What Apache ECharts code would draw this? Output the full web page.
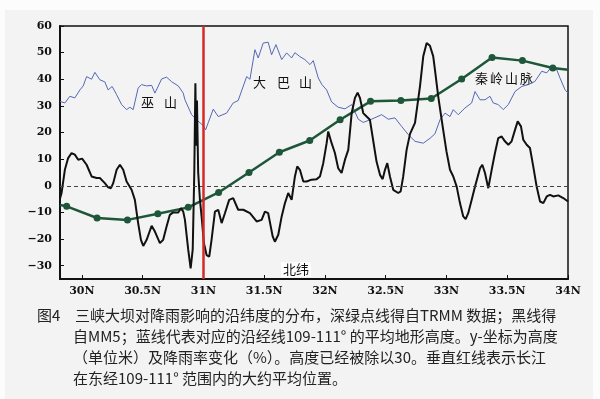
<!DOCTYPE html>
<html style="height: 100%">
<head>
<meta charset="utf-8">
<script src="https://cdn.jsdelivr.net/npm/echarts@6/dist/echarts.min.js"></script>
</head>
<body style="height: 100%; margin: 0">
<div id="container" style="width: 600px; height: 399px"></div>
<script type="text/javascript">
// latitude ticks and height ticks
var xTicks = [30, 30.5, 31, 31.5, 32, 32.5, 33, 33.5, 34];
var yTicks = [-30, -20, -10, 0, 10, 20, 30, 40, 50, 60];

// TRMM (dark green dots)
var trmmLat = [29.82, 29.875, 30.125, 30.375, 30.625, 30.875, 31.125, 31.375, 31.625, 31.875,
               32.125, 32.375, 32.625, 32.875, 33.125, 33.375, 33.625, 33.875, 34.0];
var trmmVal = [-7.2, -7.7, -12.1, -12.8, -10.5, -8.1, -2.5, 5.0, 12.6, 17.0,
               24.8, 31.7, 32.0, 32.8, 40.1, 48.2, 47.0, 44.2, 43.6];

// MM5 (black line)
var mm5Lat = [29.819, 29.833, 29.86, 29.887, 29.915, 29.942, 29.97, 30.002, 30.039, 30.08,
              30.121, 30.148, 30.189, 30.216, 30.239, 30.258, 30.286, 30.313, 30.34, 30.368,
              30.409, 30.436, 30.463, 30.486, 30.505, 30.533, 30.574, 30.601, 30.642, 30.669,
              30.697, 30.724, 30.751, 30.793, 30.815, 30.834, 30.848, 30.875, 30.895, 30.912,
              30.925, 30.934, 30.941, 30.947, 30.957, 30.971, 30.985, 31.004, 31.026, 31.048,
              31.067, 31.095, 31.122, 31.15, 31.177, 31.212, 31.245, 31.286, 31.328, 31.383,
              31.438, 31.479, 31.506, 31.533, 31.57, 31.588, 31.616, 31.644, 31.671, 31.698,
              31.726, 31.753, 31.772, 31.794, 31.822, 31.849, 31.89, 31.932, 31.959, 31.986,
              32.014, 32.027, 32.055, 32.082, 32.109, 32.137, 32.165, 32.192, 32.22, 32.247,
              32.269, 32.288, 32.315, 32.343, 32.37, 32.397, 32.425, 32.453, 32.475, 32.494,
              32.513, 32.535, 32.562, 32.603, 32.623, 32.644, 32.672, 32.7, 32.741, 32.782,
              32.809, 32.837, 32.85, 32.864, 32.891, 32.905, 32.932, 32.973, 33.0, 33.029,
              33.056, 33.084, 33.111, 33.138, 33.158, 33.179, 33.207, 33.235, 33.276, 33.295,
              33.317, 33.344, 33.372, 33.399, 33.426, 33.454, 33.481, 33.509, 33.536, 33.564,
              33.586, 33.613, 33.632, 33.66, 33.687, 33.714, 33.742, 33.77, 33.797, 33.825,
              33.852, 33.879, 33.92, 33.961, 34.0];
var mm5Val = [-5, -2.7, 6, 10.4, 12.3, 11.7, 9.8, 10.2, 7.9, 3.5,
              2.9, 2.9, 1, -0.6, -0.9, 1, 6, 7.9, 6, 1.6,
              -1.5, -5.3, -14, -20.3, -22.6, -20.3, -15, -17.2, -21.5, -20.3,
              -15.3, -10.9, -10, -10, -8.4, -9.7, -12.8, -24, -31, -24,
              5, 38.5, 15, 32, 5, -5, -11.5, -21.5, -26, -26.6,
              -20.3, -9.7, -9, -14, -10.3, -5.3, -4.6, -9, -9, -10.3,
              -13.4, -12.8, -9.7, -10.3, -19, -21, -18.4, -11.5, -6.5, -2.7,
              -5.3, 3.5, 7.3, 6, 1.6, 1.6, 2.3, 2.5, 3.5, 8.5,
              16, 20.4, 16, 12.3, 6.6, 4.8, 9.8, 13.5, 27.3, 33,
              35, 33, 27.3, 26, 24.8, 17, 9, 4.1, 2.5, 6,
              8.5, 3.5, -1.5, -2.7, -2.1, 3.5, 13.5, 19.5, 23.6, 37.3,
              48.6, 53.6, 54, 52.6, 48.6, 43.6, 33.6, 21, 12.9, 6,
              3.5, -0.3, -6.5, -11.5, -12.5, -10.3, -5.3, -0.3, 6.6, 7.9,
              4.8, -0.9, 6, 12.3, 17.9, 18.5, 16.7, 15.4, 16.7, 21,
              24.2, 22.3, 17.3, 15.4, 14.2, 7.3, -0.3, -5.9, -6.5, -4,
              -3.4, -4, -3.6, -4.6, -5.9];

// mean terrain height / 30 (blue line)
var terrLat = [29.819, 29.86, 29.901, 29.942, 29.984, 30.011, 30.039, 30.08, 30.107, 30.148,
               30.189, 30.216, 30.249, 30.286, 30.327, 30.368, 30.395, 30.422, 30.463, 30.491,
               30.533, 30.574, 30.601, 30.656, 30.697, 30.738, 30.793, 30.834, 30.848, 30.903,
               30.944, 30.971, 30.998, 31.018, 31.04, 31.081, 31.122, 31.191, 31.245, 31.286,
               31.356, 31.383, 31.424, 31.451, 31.492, 31.533, 31.561, 31.597, 31.644, 31.685,
               31.726, 31.753, 31.794, 31.835, 31.877, 31.904, 31.945, 31.975, 32.014, 32.055,
               32.109, 32.165, 32.22, 32.274, 32.315, 32.384, 32.467, 32.521, 32.576, 32.631,
               32.686, 32.741, 32.809, 32.864, 32.905, 32.947, 32.988, 33.029, 33.056, 33.097,
               33.152, 33.207, 33.235, 33.276, 33.317, 33.358, 33.385, 33.426, 33.467, 33.509,
               33.564, 33.619, 33.673, 33.728, 33.784, 33.825, 33.866, 33.907, 33.934, 33.975,
               34.0];
var terrVal = [31.7, 31.1, 33.6, 33.0, 36.0, 37.5, 41, 40, 42.6, 39.8,
               39, 36, 37.3, 34.2, 30.5, 28.6, 29.5, 28.6, 36.7, 38,
               37.5, 37.7, 34.8, 40.1, 40.8, 39.1, 37.5, 34.8, 32.3, 26.7,
               24.8, 23.7, 22.6, 21, 23.7, 28.8, 26, 27.3, 31.1, 32,
               41, 40, 51.1, 48, 53.6, 53.9, 49.2, 53, 47.4, 49.9,
               48, 50, 48.5, 47.4, 45.5, 47, 40.5, 38, 36, 31.5,
               29.5, 28.9, 30.5, 25, 23.8, 25, 26.7, 25, 25.5, 22.3,
               19.2, 16.7, 16, 17.8, 19.5, 24.8, 27.3, 26, 28.6, 26.7,
               29.2, 31.1, 35.4, 32.3, 32.3, 33.6, 31.1, 30.5, 28.6, 30.5,
               35.4, 37.3, 38, 39.2, 43, 42.4, 44.8, 43.6, 40.5, 36.1,
               34.8];

var riverLat = 31.0;

function pairs(xs, ys) {
    var out = [];
    for (var i = 0; i < xs.length; i++) out.push([xs[i], ys[i]]);
    return out;
}

var trmmData = pairs(trmmLat, trmmVal);
trmmData[0] = {value: trmmData[0], symbol: 'none'};
trmmData[trmmData.length - 1] = {value: trmmData[trmmData.length - 1], symbol: 'none'};

var tickFont = {fontFamily: 'DejaVu Serif', fontWeight: 'bold', fontSize: 11, color: '#111'};
var cjk = '"Noto Sans CJK SC"';

// one text element per character so the spacing follows the figure
function chars(list, top, size) {
    return list.map(function (c) {
        return {type: 'text', left: c[1], top: top, style: {text: c[0], font: size + 'px ' + cjk, fill: '#111'}};
    });
}

var graphics = [
    {type: 'rect', left: 5, top: 10, shape: {width: 588, height: 389}, style: {fill: '#f3f3f3'}, z: -10}
]
.concat(chars([['巫', 141], ['山', 164]], 96, 13))
.concat(chars([['大', 253], ['巴', 277], ['山', 299]], 76, 13))
.concat(chars([['秦', 475], ['岭', 490], ['山', 505], ['脉', 520]], 72, 13))
.concat([
    {type: 'text', left: 281, top: 262, style: {text: '北纬', font: '13px ' + cjk, fill: '#111', backgroundColor: '#fff', padding: [1, 2]}},
    {type: 'text', left: 37, top: 308, style: {text: '图4', font: '15px ' + cjk, fill: '#222'}},
    {type: 'text', left: 75, top: 308, style: {text: '三峡大坝对降雨影响的沿纬度的分布，深绿点线得自TRMM 数据；黑线得', font: '15px ' + cjk, fill: '#222'}},
    {type: 'text', left: 73, top: 329, style: {text: '自MM5；蓝线代表对应的沿经线109-111° 的平均地形高度。y-坐标为高度', font: '15px ' + cjk, fill: '#222'}},
    {type: 'text', left: 73, top: 350, style: {text: '（单位米）及降雨率变化（%）。高度已经被除以30。垂直红线表示长江', font: '15px ' + cjk, fill: '#222'}},
    {type: 'text', left: 73, top: 371, style: {text: '在东经109-111° 范围内的大约平均位置。', font: '15px ' + cjk, fill: '#222'}}
]);

var myChart = echarts.init(document.getElementById('container'));
var option = {
    backgroundColor: '#fcfcfc',
    animation: false,
    grid: {left: 60, right: 32, top: 26, bottom: 120, show: true, borderColor: '#111', borderWidth: 1.5},
    xAxis: {
        type: 'value', min: 29.82, max: 34,
        axisLine: {show: true, onZero: false, lineStyle: {color: '#111', width: 2}},
        axisTick: {show: true, inside: true, length: 4, customValues: xTicks, lineStyle: {color: '#111'}},
        axisLabel: Object.assign({customValues: xTicks, margin: 7, formatter: function (v) { return v + 'N'; }}, tickFont),
        splitLine: {show: false}
    },
    yAxis: {
        type: 'value', min: -35, max: 60,
        axisLine: {show: true, onZero: false, lineStyle: {color: '#111', width: 2}},
        axisTick: {show: true, inside: true, length: 4, customValues: yTicks, lineStyle: {color: '#111'}},
        axisLabel: Object.assign({customValues: yTicks, margin: 8, formatter: function (v) { return v < 0 ? '\u2212' + (-v) : '' + v; }}, tickFont),
        splitLine: {show: false}
    },
    graphic: graphics,
    series: [
        {
            name: 'terrain', type: 'line', data: pairs(terrLat, terrVal),
            symbol: 'none', lineStyle: {color: '#5468b4', width: 1}, z: 2,
            markLine: {
                silent: true, symbol: 'none', label: {show: false},
                lineStyle: {color: '#444', width: 1, type: [4, 3]},
                data: [{yAxis: 0}]
            }
        },
        {
            name: 'TRMM', type: 'line', data: trmmData,
            symbol: 'circle', symbolSize: 7,
            itemStyle: {color: '#1d5638'}, lineStyle: {color: '#1d5638', width: 2.5}, z: 3
        },
        {
            name: 'MM5', type: 'line', data: pairs(mm5Lat, mm5Val),
            symbol: 'none', lineStyle: {color: '#111', width: 2}, z: 4
        },
        {
            name: 'river', type: 'line', data: [], z: 5,
            markLine: {
                silent: true, symbol: 'none', label: {show: false},
                lineStyle: {color: '#d42a2a', width: 2.5, type: 'solid'},
                data: [{xAxis: riverLat}]
            }
        }
    ]
};
myChart.setOption(option);
</script>
</body>
</html>
